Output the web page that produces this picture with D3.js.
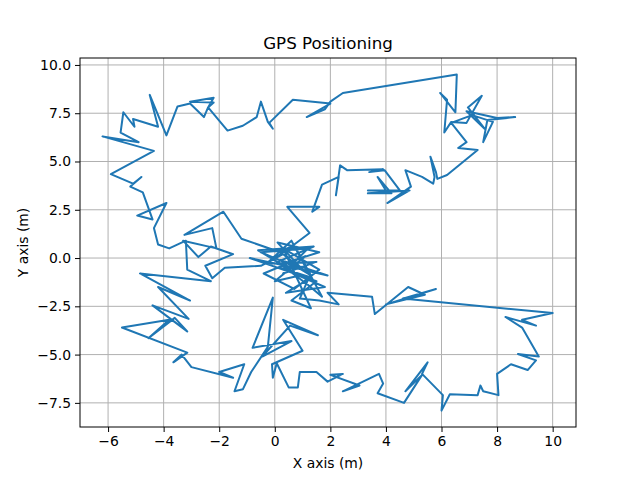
<!DOCTYPE html>
<html>
<head>
<meta charset="utf-8">
<script src="https://cdn.jsdelivr.net/npm/d3@7"></script>
<style>
  body { margin: 0; background: #fff; }
  text { font-family: "DejaVu Sans", sans-serif; }
</style>
</head>
<body>
<div id="chart"></div>
<script>
// GPS track, metres
const xs = [0.65,0,0.8,-0.5,1.2,0.3,1.5,-0.3,0.6,1.3,0.2,1.8,0.4,1.2,0.9,1.6,2.3,1.9,3.5,3.6,4.8,5.4,4,5.8,4.6,10,8.9,9.4,8.3,8.9,9.5,8.75,9.4,9.1,8.5,8.0,8.05,7.5,7.4,7.3,6.3,6.0,6.05,5.3,5.5,4.7,5.3,4.65,3.7,3.9,3.75,2.45,3.05,2.0,2.45,1.9,1.5,0.9,0.83,0.5,0.07,-0.07,-0.1,1.0,0.3,1.55,0.55,-0.45,0.6,-0.8,-0.07,-0.25,-0.85,-1.15,-1.45,-1.1,-2.0,-1.5,-3.0,-3.35,-3.65,-3.15,-5.5,-3.8,-4.55,-3.6,-3.15,-4.4,-3.1,-4.2,-3.05,-4.85,-2.3,-3.15,-3.2,-3.8,-4.2,-4.35,-3.9,-4.95,-4.4,-4.75,-5.2,-4.8,-5.1,-5.9,-4.35,-6.2,-4.9,-5.55,-5.45,-5.05,-5.1,-4.2,-4.5,-3.9,-3.5,-3.05,-2.55,-2.4,-2.2,-3.05,-2.2,-2.4,-1.7,-1.15,-0.65,-0.5,-0.25,-0.07,-0.2,0.65,2.0,1.15,1.8,2.0,2.45,6.55,6.5,5.95,6.2,6.1,6.35,6.9,7.45,6.95,7.55,6.9,8.0,8.65,7.65,7.5,7.85,7.1,6.35,6.9,6.6,7.3,6.2,5.85,5.8,5.6,5.75,5.7,5.3,4.7,4.9,4.05,4.85,3.35,4.2,3.7,4.0,3.35,4.5,3.95,3.4,3.9,2.6,2.35,2.2,2.3,1.7,1.35,1.6,0.45,1.25,0.65,0.2,-1.2,-1.85,-3.25,-2.25,-2.1,-3.3,-2.75,-2.3,-1.5,-2.5,-2.25,-1.8,-0.5,0.3,1.0,0.1,1.6,0.5,1.3,0.8,1.7,1.2,0.1,1.4,-0.6,0.9,0.0,1.1,-0.4,0.7,1.6,0.3,1.3,0.6,1.5,-0.9,0.4,1.9,0.2];
const ys = [0.65,0,-0.5,0.3,0.5,-0.8,-0.2,-0.3,0.9,-1,-0.5,-1.5,-1.8,-1.1,-2.1,-2.2,-2.4,-1.8,-2,-2.9,-1.5,-1.9,-2.4,-1.6,-2.1,-2.85,-3.2,-3.5,-3.05,-3.6,-5.1,-4.97,-5.3,-5.8,-5.5,-6.0,-7.1,-6.9,-6.6,-7.1,-7.05,-7.9,-7.1,-6.0,-5.4,-6.9,-6.05,-7.5,-7.0,-6.5,-6.0,-6.9,-6.6,-6.05,-6.0,-6.4,-5.9,-5.9,-6.7,-6.7,-5.45,-6.2,-5.5,-4.8,-3.2,-4.0,-3.5,-5.1,-4.3,-4.65,-2.05,-4.6,-5.9,-6.8,-6.9,-5.5,-5.9,-6.2,-5.65,-5.0,-5.4,-4.9,-3.6,-3.2,-4.15,-3.1,-3.8,-2.45,-3.15,-1.5,-2.2,-0.8,-1.2,-0.6,0.9,0.5,0.7,1.55,2.85,2.2,2.0,3.4,3.7,4.2,3.85,4.35,5.55,6.3,6.0,6.5,7.55,6.8,7.2,6.8,8.45,6.35,7.85,8.0,7.3,7.8,8.3,8.1,8.05,7.8,6.6,6.85,7.3,8.1,7.05,6.7,7.0,8.2,8.0,7.3,7.7,8.1,8.55,9.5,7.55,8.55,8.2,6.5,7.05,7.0,8.4,7.8,6.7,7.6,7.25,7.3,7.15,6.0,7.05,7.4,7.0,6.0,5.7,5.6,4.3,4.1,4.45,5.25,4.2,3.85,4.2,4.55,3.7,2.85,3.5,3.35,3.35,4.2,3.5,3.5,3.5,4.55,4.45,4.6,4.55,4.8,3.25,4.2,3.8,2.4,2.65,2.65,1.3,0.65,0.3,1.0,2.4,1.2,1.55,0.5,0.9,0.05,0.6,0.2,-0.4,-1.05,-0.5,-0.4,0.2,-0.6,0.8,0.3,-0.2,-0.9,0.4,-2.0,-1.4,-0.2,0.6,0.4,-0.9,-1.2,0.1,-0.8,-1.6,-0.6,0.5,-2.6,-2.2,-1.2,0.0,-0.4,-0.9,-0.1];
const xTicks = [-6, -4, -2, 0, 2, 4, 6, 8, 10];
const yTicks = [-7.5, -5.0, -2.5, 0.0, 2.5, 5.0, 7.5, 10.0];

const margin = { top: 58, right: 64, bottom: 53, left: 80 };
const width = 640 - margin.left - margin.right;
const height = 480 - margin.top - margin.bottom;

const x = d3.scaleLinear().domain([-7.01, 10.84]).range([0, width]);
const y = d3.scaleLinear().domain([-8.75, 10.36]).range([height, 0]);

const svg = d3.select('#chart').append('svg')
  .attr('width', 640).attr('height', 480);
const g = svg.append('g')
  .attr('transform', `translate(${margin.left},${margin.top})`);

// grid
g.selectAll('.gx').data(xTicks).enter().append('line')
  .attr('x1', d => x(d)).attr('x2', d => x(d))
  .attr('y1', 0).attr('y2', height)
  .attr('stroke', '#b0b0b0').attr('stroke-width', 1);
g.selectAll('.gy').data(yTicks).enter().append('line')
  .attr('y1', d => y(d)).attr('y2', d => y(d))
  .attr('x1', 0).attr('x2', width)
  .attr('stroke', '#b0b0b0').attr('stroke-width', 1);

// track
const pts = xs.map((v, i) => [v, ys[i]]);
g.append('path')
  .datum(pts)
  .attr('fill', 'none')
  .attr('stroke', '#1f77b4')
  .attr('stroke-width', 2)
  .attr('stroke-linejoin', 'round')
  .attr('d', d3.line().x(d => x(d[0])).y(d => y(d[1])));

// axes
const xAxis = g.append('g')
  .attr('transform', `translate(0,${height})`)
  .call(d3.axisBottom(x).tickValues(xTicks).tickSize(5).tickPadding(4).tickFormat(d3.format('d')));
const yAxis = g.append('g')
  .call(d3.axisLeft(y).tickValues(yTicks).tickSize(5).tickPadding(4).tickFormat(d3.format('.1f')));
[xAxis, yAxis].forEach(a => {
  a.selectAll('text').attr('font-size', 13.9).attr('fill', '#000')
    .style('font-family', '"DejaVu Sans", sans-serif');
  a.select('.domain').remove();
});

// frame
g.append('rect').attr('width', width).attr('height', height)
  .attr('fill', 'none').attr('stroke', '#000').attr('stroke-width', 1);

svg.append('text').attr('x', margin.left + width / 2).attr('y', 49)
  .attr('text-anchor', 'middle').attr('font-size', 16.7).text('GPS Positioning');
svg.append('text').attr('x', margin.left + width / 2).attr('y', 468)
  .attr('text-anchor', 'middle').attr('font-size', 13.9).text('X axis (m)');
svg.append('text').attr('transform', `translate(28,${margin.top + height / 2}) rotate(-90)`)
  .attr('text-anchor', 'middle').attr('font-size', 13.9).text('Y axis (m)');
</script>
</body>
</html>
